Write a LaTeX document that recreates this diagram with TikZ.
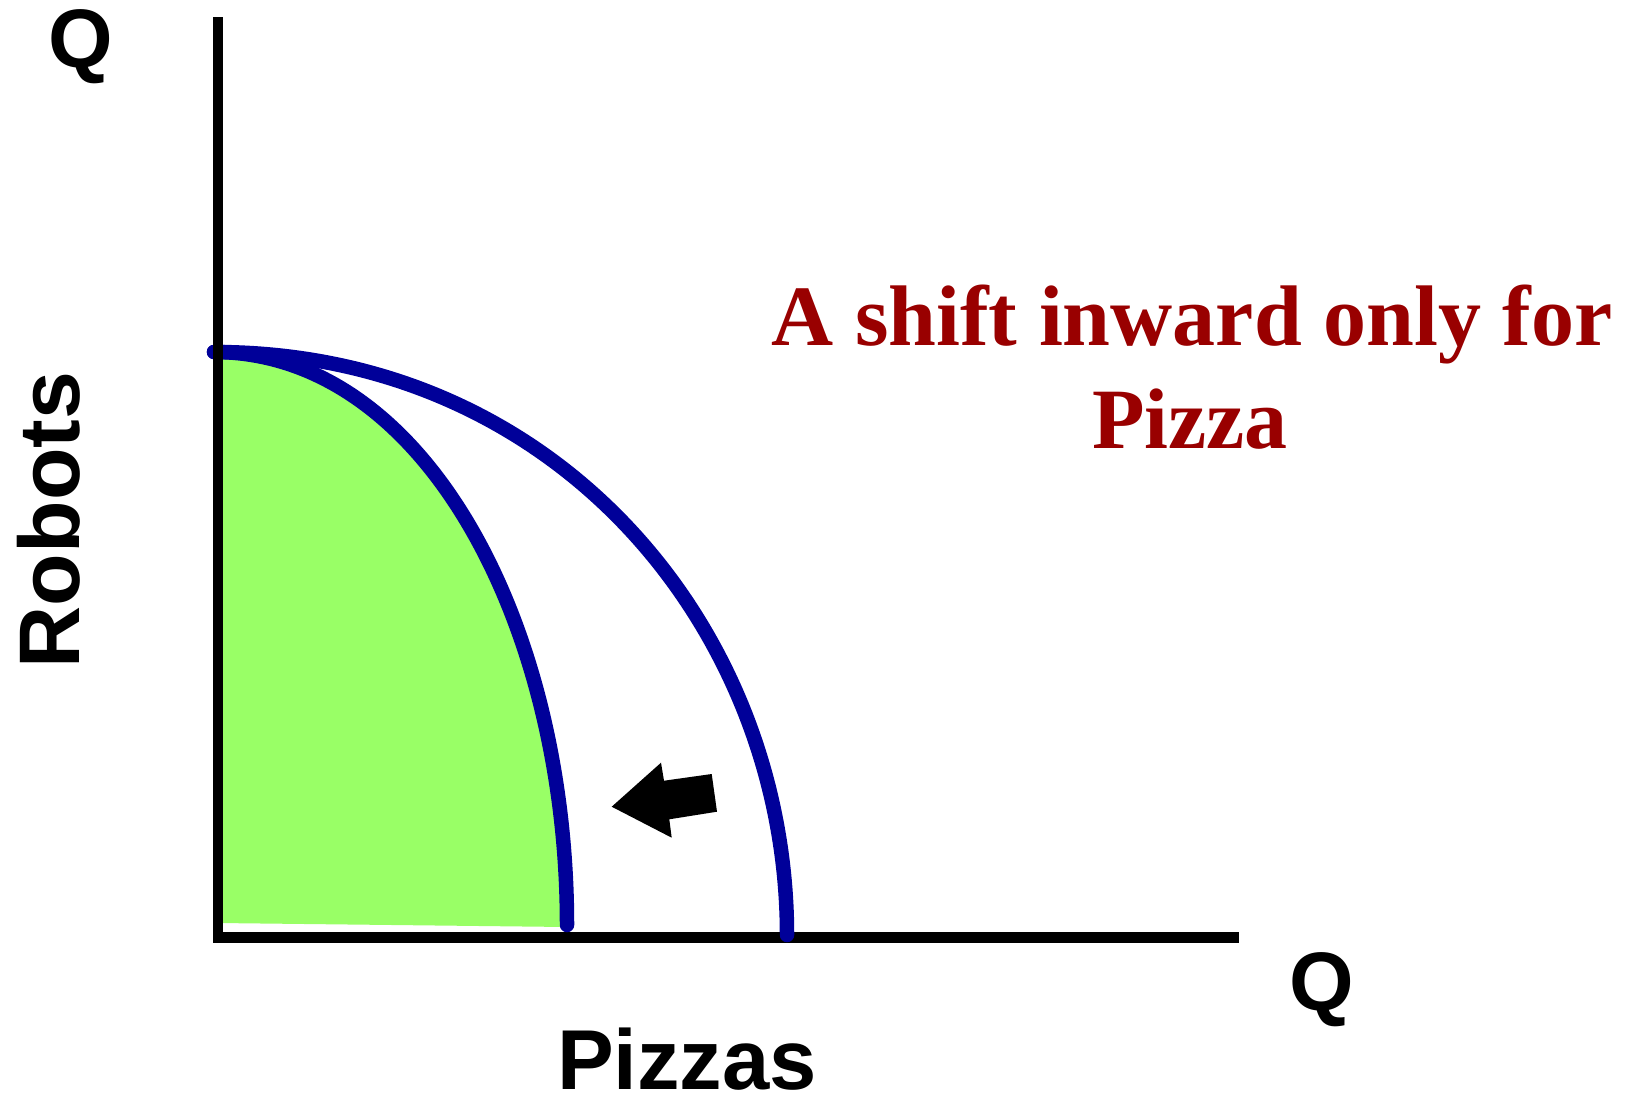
\documentclass[tikz,border=0pt]{standalone}
\usepackage{fontspec}
\setmainfont{Liberation Serif}
\setsansfont{Liberation Sans}
\definecolor{ppfblue}{RGB}{0,0,153}
\definecolor{ppfgreen}{RGB}{153,255,102}
\definecolor{ppfred}{RGB}{153,0,0}
\tikzset{
  axisline/.style={line width=10.5pt, black},
  frontier/.style={line width=14.5pt, ppfblue, line cap=round},
  axislabel/.style={font=\sffamily\bfseries\fontsize{83}{90}\selectfont, inner sep=0pt, anchor=base},
  note/.style={font=\rmfamily\bfseries\fontsize{86}{103}\selectfont, text=ppfred, inner sep=0pt, anchor=base},
}
\begin{document}
\begin{tikzpicture}[x=1pt,y=-1pt]
\useasboundingbox (0,0) rectangle (1625,1098);
% named points
\coordinate (top) at (214,352);
\coordinate (innerend) at (567,925);
\coordinate (outerend) at (787,935);
\coordinate (greenleft) at (218,923);
\coordinate (ytop) at (218,17);
\coordinate (xend) at (1238.5,937.5);
% green region
\fill[ppfgreen] (top) .. controls (425,352) and (567,625) .. (innerend) -- (567,927) -- (greenleft) -- (218,352) -- cycle;
% horizontal axis
\draw[axisline] (213,937.5) -- (xend);
% frontiers
\draw[frontier] (top) .. controls (558,352) and (787,630) .. (outerend);
\draw[frontier] (top) .. controls (425,352) and (567,625) .. (innerend);
% vertical axis
\draw[axisline] (ytop) -- (218,943);
% arrow
\fill[black] (611.7,806.7) -- (661,762.7) -- (664,780.7) -- (711.7,774) -- (717,811.7) -- (669.3,819.3) -- (671.7,837.7) -- cycle;
% labels
\node[axislabel] (qy) at (81,67) {Q};
\node[axislabel] (qx) at (1322,1010) {Q};
\node[axislabel, text depth=0pt, font=\sffamily\bfseries\fontsize{85}{90}\selectfont] (px) at (687,1089) {Pizzas};
\node[axislabel, rotate=90, font=\sffamily\bfseries\fontsize{86}{90}\selectfont] (py) at (79,520) {Robots};
\node[note] (n1) at (1192,345) {A shift inward only for};
\node[note] (n2) at (1190,448) {Pizza};
\end{tikzpicture}
\end{document}
